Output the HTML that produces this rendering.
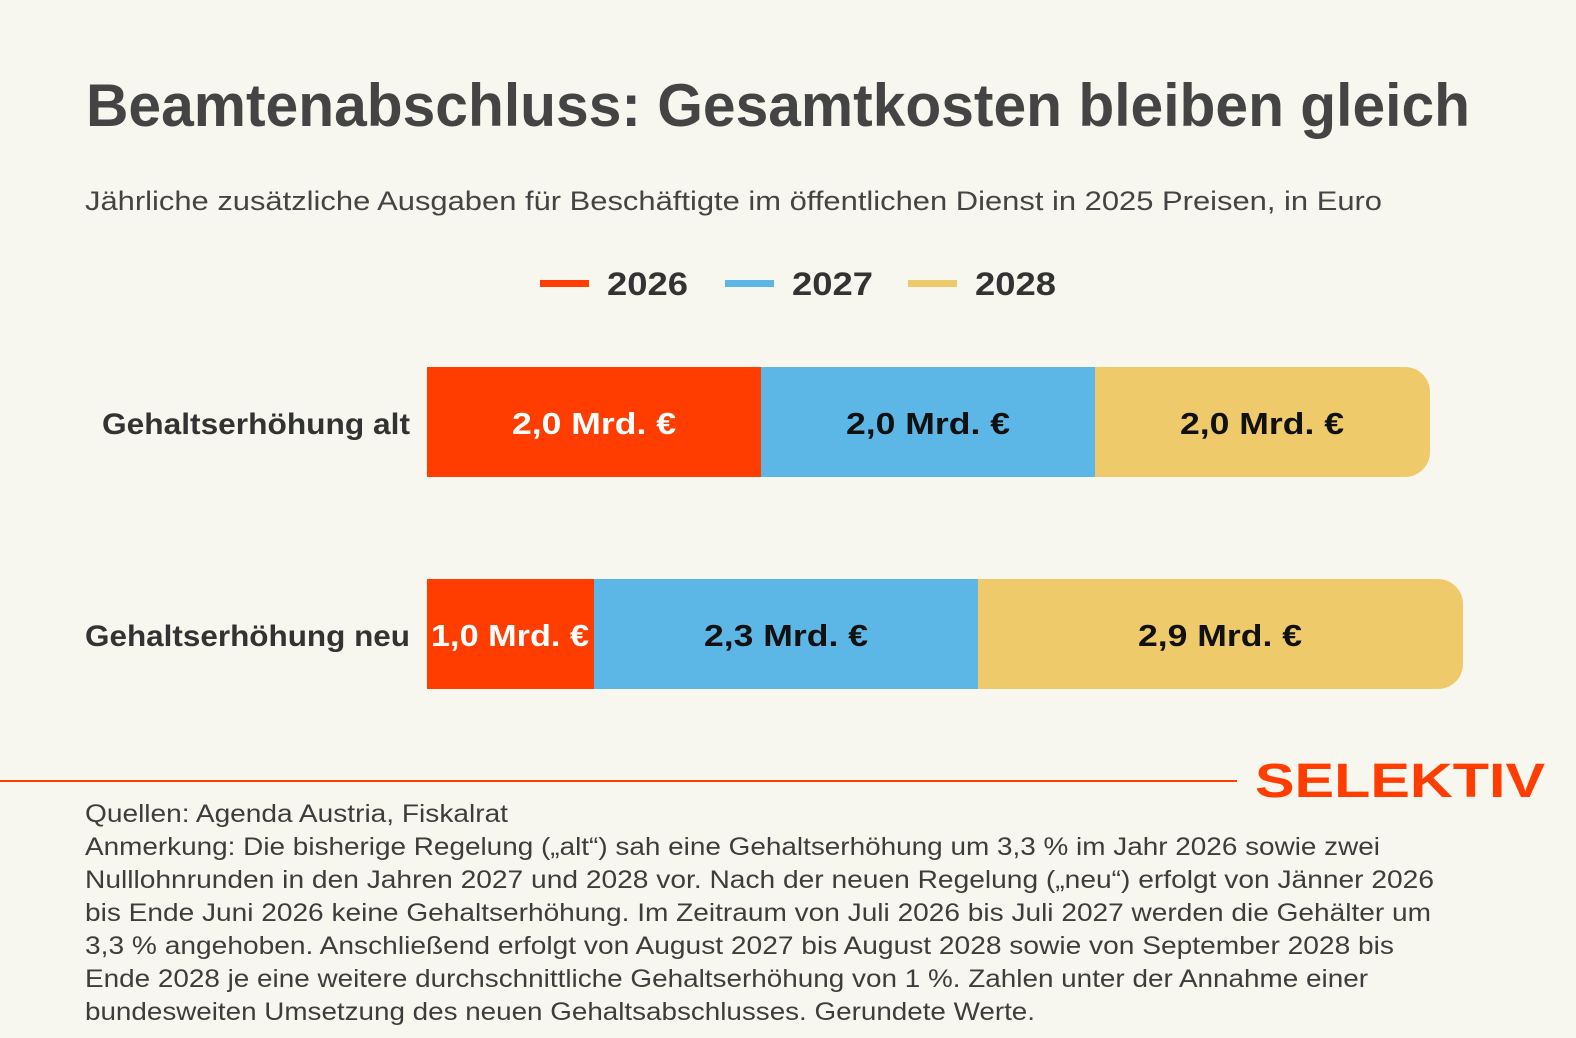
<!DOCTYPE html>
<html><head><meta charset="utf-8"><style>
html,body{margin:0;padding:0;background:#f8f7ef;overflow:hidden;}
svg{display:block}
text{font-family:"Liberation Sans","DejaVu Sans",sans-serif;}
</style></head><body>
<svg width="1576" height="1038" viewBox="0 0 1576 1038" xmlns="http://www.w3.org/2000/svg">
<rect width="1576" height="1038" fill="#f8f7ef"/>
<text x="86" y="126" font-size="60" font-weight="bold" fill="#444" textLength="1384" lengthAdjust="spacingAndGlyphs">Beamtenabschluss: Gesamtkosten bleiben gleich</text>
<text x="85" y="210" font-size="27" fill="#444" textLength="1297" lengthAdjust="spacingAndGlyphs">Jährliche zusätzliche Ausgaben für Beschäftigte im öffentlichen Dienst in 2025 Preisen, in Euro</text>
<rect x="540" y="280" width="49" height="7" fill="#ff3d00"/>
<text x="607" y="295" font-size="32" font-weight="bold" fill="#333" textLength="81" lengthAdjust="spacingAndGlyphs">2026</text>
<rect x="725" y="280" width="49" height="7" fill="#5db7e6"/>
<text x="792" y="295" font-size="32" font-weight="bold" fill="#333" textLength="81" lengthAdjust="spacingAndGlyphs">2027</text>
<rect x="908" y="280" width="49" height="7" fill="#efca6a"/>
<text x="975" y="295" font-size="32" font-weight="bold" fill="#333" textLength="81" lengthAdjust="spacingAndGlyphs">2028</text>

<text x="102" y="434" font-size="30" font-weight="bold" fill="#333" textLength="308" lengthAdjust="spacingAndGlyphs">Gehaltserhöhung alt</text>
<text x="85" y="646" font-size="30" font-weight="bold" fill="#333" textLength="325" lengthAdjust="spacingAndGlyphs">Gehaltserhöhung neu</text>

<path d="M1095 367 H1405 a25 25 0 0 1 25 25 V452 a25 25 0 0 1 -25 25 H1095 Z" fill="#efca6a"/>
<rect x="761" y="367" width="334" height="110" fill="#5db7e6"/>
<rect x="427" y="367" width="334" height="110" fill="#ff3d00"/>
<text x="594" y="434" font-size="31" font-weight="bold" fill="#fff" text-anchor="middle" textLength="164" lengthAdjust="spacingAndGlyphs">2,0 Mrd. €</text>
<text x="928" y="434" font-size="31" font-weight="bold" fill="#111" text-anchor="middle" textLength="164" lengthAdjust="spacingAndGlyphs">2,0 Mrd. €</text>
<text x="1262" y="434" font-size="31" font-weight="bold" fill="#111" text-anchor="middle" textLength="164" lengthAdjust="spacingAndGlyphs">2,0 Mrd. €</text>

<path d="M978 579 H1438 a25 25 0 0 1 25 25 V664 a25 25 0 0 1 -25 25 H978 Z" fill="#efca6a"/>
<rect x="594" y="579" width="384" height="110" fill="#5db7e6"/>
<rect x="427" y="579" width="167" height="110" fill="#ff3d00"/>
<text x="510" y="646" font-size="31" font-weight="bold" fill="#fff" text-anchor="middle" textLength="158" lengthAdjust="spacingAndGlyphs">1,0 Mrd. €</text>
<text x="786" y="646" font-size="31" font-weight="bold" fill="#111" text-anchor="middle" textLength="164" lengthAdjust="spacingAndGlyphs">2,3 Mrd. €</text>
<text x="1220" y="646" font-size="31" font-weight="bold" fill="#111" text-anchor="middle" textLength="164" lengthAdjust="spacingAndGlyphs">2,9 Mrd. €</text>

<rect x="0" y="780" width="1237" height="2" fill="#ff3d00"/>
<text x="1255" y="797" font-size="48" font-weight="bold" fill="#ff3d00" textLength="290" lengthAdjust="spacingAndGlyphs">SELEKTIV</text>

<g font-size="25" fill="#3d3d3d">
<text x="85" y="822" textLength="423" lengthAdjust="spacingAndGlyphs">Quellen: Agenda Austria, Fiskalrat</text>
<text x="85" y="855" textLength="1295" lengthAdjust="spacingAndGlyphs">Anmerkung: Die bisherige Regelung („alt“) sah eine Gehaltserhöhung um 3,3 % im Jahr 2026 sowie zwei</text>
<text x="85" y="888" textLength="1349" lengthAdjust="spacingAndGlyphs">Nulllohnrunden in den Jahren 2027 und 2028 vor. Nach der neuen Regelung („neu“) erfolgt von Jänner 2026</text>
<text x="85" y="921" textLength="1346" lengthAdjust="spacingAndGlyphs">bis Ende Juni 2026 keine Gehaltserhöhung. Im Zeitraum von Juli 2026 bis Juli 2027 werden die Gehälter um</text>
<text x="85" y="954" textLength="1309" lengthAdjust="spacingAndGlyphs">3,3 % angehoben. Anschließend erfolgt von August 2027 bis August 2028 sowie von September 2028 bis</text>
<text x="85" y="987" textLength="1283" lengthAdjust="spacingAndGlyphs">Ende 2028 je eine weitere durchschnittliche Gehaltserhöhung von 1 %. Zahlen unter der Annahme einer</text>
<text x="85" y="1020" textLength="950" lengthAdjust="spacingAndGlyphs">bundesweiten Umsetzung des neuen Gehaltsabschlusses. Gerundete Werte.</text>
</g>
</svg>
</body></html>
